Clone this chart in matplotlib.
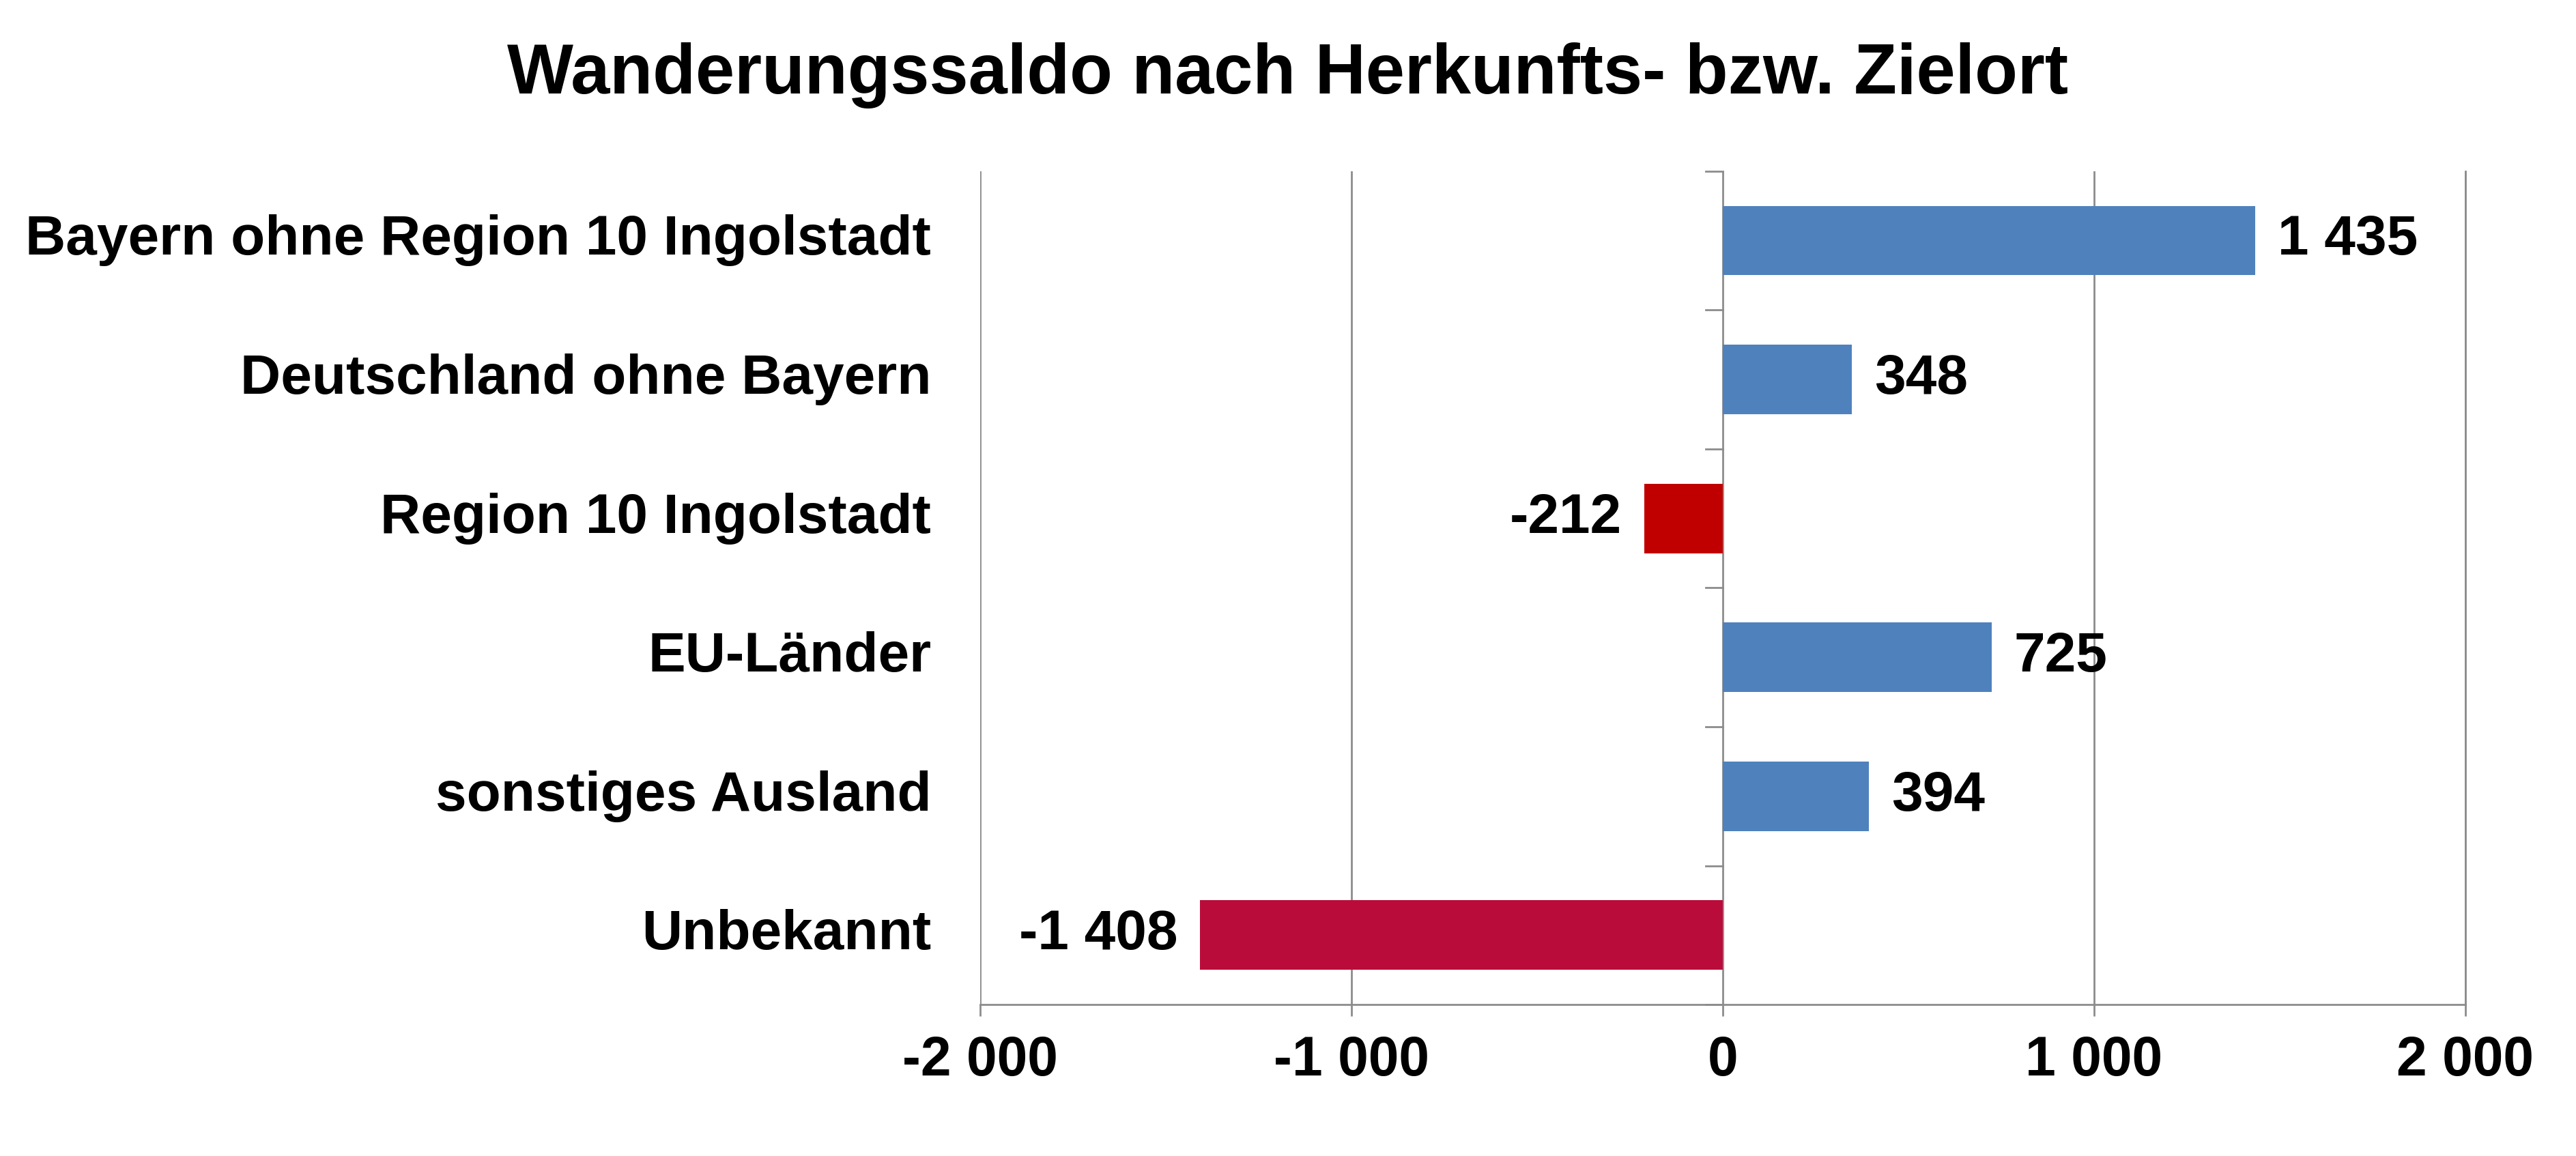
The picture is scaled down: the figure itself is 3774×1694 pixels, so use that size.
import matplotlib
matplotlib.use("Agg")
import matplotlib.pyplot as plt

categories = ["Bayern ohne Region 10 Ingolstadt", "Deutschland ohne Bayern", "Region 10 Ingolstadt",
              "EU-Länder", "sonstiges Ausland", "Unbekannt"]
values = [1435, 348, -212, 725, 394, -1408]
colors = ["#4F81BD", "#4F81BD", "#C00000", "#4F81BD", "#4F81BD", "#BA0C3A"]
xticks = [-2000, -1000, 0, 1000, 2000]

def fmt(v):
    s = f"{abs(v):,}".replace(",", " ")
    return ("-" if v < 0 else "") + s

plt.rcParams['font.family'] = ['Liberation Sans', 'DejaVu Sans']
plt.rcParams['font.weight'] = 'bold'
fig = plt.figure(figsize=(37.74, 16.94), dpi=100)
ax = fig.add_axes([0.3805, 0.131, 0.5765, 0.721])
y = list(range(len(categories)))
ax.barh(y, values, height=0.5, color=colors, zorder=3)
ax.set_ylim(len(categories) - 0.5, -0.5)
ax.set_xlim(-2000, 2000)
ax.set_xticks(xticks)
ax.set_xticklabels([fmt(t) for t in xticks], fontsize=58, fontweight='bold')
ax.xaxis.grid(True, color="#8C8C8C", linewidth=2, zorder=0)
for s in ["top", "right", "left"]:
    ax.spines[s].set_visible(False)
ax.spines["bottom"].set_color("#8C8C8C")
ax.spines["bottom"].set_linewidth(2)
ax.tick_params(axis='x', length=12, width=2, color="#8C8C8C", pad=20)
ax.set_yticks([])
ax.axvline(2000, color="#8C8C8C", lw=2, zorder=0, clip_on=False)
for b in [i - 0.5 for i in range(len(categories) + 1)]:
    ax.plot([-45, 0], [b, b], color="#8C8C8C", lw=2, zorder=2, clip_on=False)
for i, (c, v) in enumerate(zip(categories, values)):
    ax.text(-0.033, i, c, transform=ax.get_yaxis_transform(), ha='right', va='center',
            fontsize=59, fontweight='bold')
    off = 60 if v >= 0 else -60
    ax.text(v + off, i, fmt(v), ha='left' if v >= 0 else 'right', va='center',
            fontsize=59, fontweight='bold', zorder=4)
fig.text(0.5, 0.935, "Wanderungssaldo nach Herkunfts- bzw. Zielort", ha='center', va='center',
         fontsize=74, fontweight='bold')
fig.savefig("out.png", dpi=100)
